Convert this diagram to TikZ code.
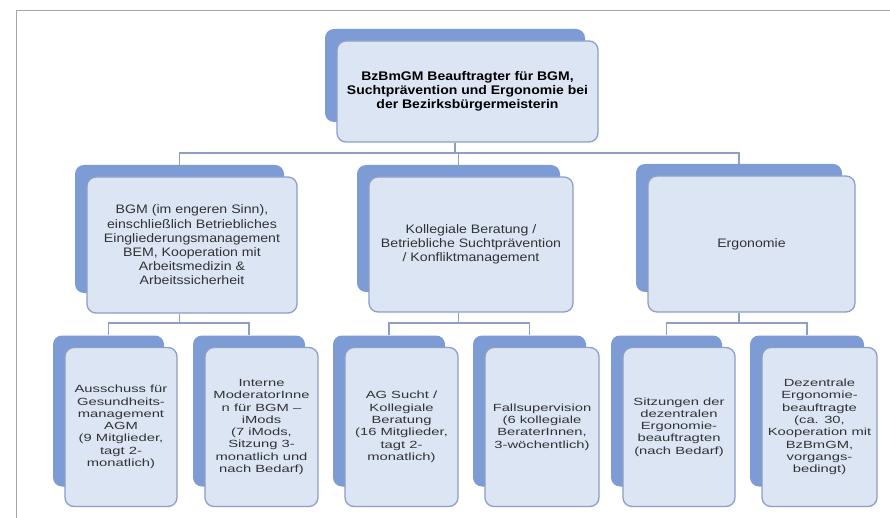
\documentclass[tikz,border=0pt]{standalone}
\usepackage{fontspec}
\setmainfont{Liberation Sans}
\newfontfamily\headfont{Liberation Sans}[FakeStretch=1.12]
\newfontfamily\midfont{Liberation Sans}[FakeStretch=1.15]
\newfontfamily\lowfont{Liberation Sans}[FakeStretch=1.42]

\definecolor{backfill}{HTML}{7D9BD5}
\definecolor{frontfill}{HTML}{DBE5F4}
\definecolor{frontline}{HTML}{8E9EC4}
\definecolor{linkcol}{HTML}{8E9EC4}
\definecolor{framecol}{HTML}{A6A6A6}
\definecolor{txt}{HTML}{333333}

\tikzset{
  backbox/.style={fill=backfill, rounded corners=9pt, inner sep=0pt, draw=none},
  frontbox/.style={fill=frontfill, draw=frontline, line width=1.3pt,
    rounded corners=9pt, inner sep=0pt, align=center, text=txt},
  headtext/.style={font=\headfont\bfseries\fontsize{12.5}{13.8}\selectfont, text=black},
  midtext/.style={font=\midfont\fontsize{12.3}{14.2}\selectfont},
  lowtext/.style={font=\lowfont\fontsize{10.4}{12.3}\selectfont},
  link/.style={draw=linkcol, line width=1.3pt},
}

% #1 name, #2/#3 centre of the front card, #4/#5 its size, #6 style, #7 text
\newcommand\orgbox[7]{%
  \node[backbox, minimum width=#4-1, minimum height=#5-8] (#1B) at (#2-12.5,#3-16) {};
  \node[frontbox, #6, minimum width=#4, minimum height=#5] (#1) at (#2,#3) {#7};
}

\begin{document}
\begin{tikzpicture}[x=1pt,y=-1pt]
  \fill[white] (0,0) rectangle (890,518);
  \useasboundingbox (0,0) rectangle (890,518);
  \draw[framecol, line width=1.5pt] (16.5,518) -- (16.5,10.5) -- (890,10.5);

  % top level
  \orgbox{top}{467.5}{91.5}{261}{101}{headtext}{BzBmGM Beauftragter für BGM,\\Suchtprävention und Ergonomie bei\\der Bezirksbürgermeisterin}

  % second level
  \orgbox{bgm}{192}{245}{210}{136}{midtext}{BGM (im engeren Sinn),\\einschließlich Betriebliches\\Eingliederungsmanagement\\BEM, Kooperation mit\\Arbeitsmedizin \&\\Arbeitssicherheit}
  \orgbox{kol}{471}{244.5}{204}{135}{midtext}{Kollegiale Beratung /\\Betriebliche Suchtprävention\\/ Konfliktmanagement}
  \orgbox{erg}{751.5}{244}{207}{136}{midtext}{Ergonomie}

  % third level
  \orgbox{aus}{121}{427}{112}{159}{lowtext}{Ausschuss für\\Gesundheits-\\management\\AGM\\(9 Mitglieder,\\tagt 2-\\monatlich)}
  \orgbox{mod}{261.5}{427}{113}{159}{lowtext}{Interne\\ModeratorInne\\n für BGM –\\iMods\\(7 iMods,\\Sitzung 3-\\monatlich und\\nach Bedarf)}
  \orgbox{ags}{401.5}{427}{113}{159}{lowtext}{AG Sucht /\\Kollegiale\\Beratung\\(16 Mitglieder,\\tagt 2-\\monatlich)}
  \orgbox{fal}{542}{427}{114}{159}{lowtext}{Fallsupervision\\(6 kollegiale\\BeraterInnen,\\3-wöchentlich)}
  \orgbox{sit}{679}{427}{112}{159}{lowtext}{Sitzungen der\\dezentralen\\Ergonomie-\\beauftragten\\(nach Bedarf)}
  \orgbox{dez}{819.5}{427}{115}{159}{lowtext}{Dezentrale\\Ergonomie-\\beauftragte\\(ca. 30,\\Kooperation mit\\BzBmGM,\\vorgangs-\\bedingt)}

  % connectors
  \coordinate (bus1) at (0,153);
  \coordinate (bus2) at (0,323);
  \draw[link] (topB |- top.south) -- (topB |- bus1);
  \draw[link] (bgmB.north) |- (bus1 -| ergB.north) -- (ergB.north);
  \draw[link] (kolB.north) -- (kolB.north |- bus1);

  \draw[link] (bgmB |- bgm.south) -- (bgmB |- bus2);
  \draw[link] (ausB.north) |- (bus2 -| modB.north) -- (modB.north);
  \draw[link] (kolB |- kol.south) -- (kolB |- bus2);
  \draw[link] (agsB.north) |- (bus2 -| falB.north) -- (falB.north);
  \draw[link] (ergB |- erg.south) -- (ergB |- bus2);
  \draw[link] (sitB.north) |- (bus2 -| dezB.north) -- (dezB.north);
\end{tikzpicture}
\end{document}
